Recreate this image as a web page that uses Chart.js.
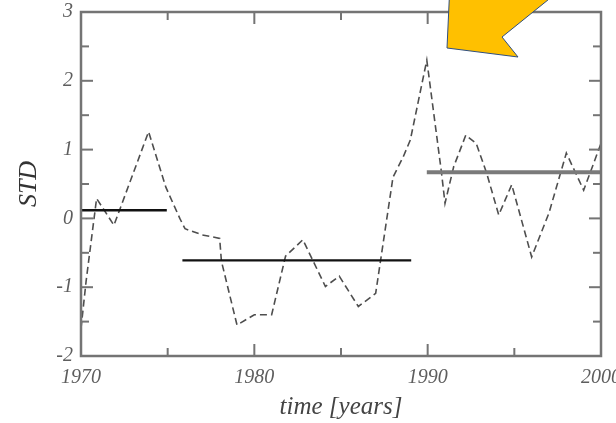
<!DOCTYPE html>
<html><head><meta charset="utf-8">
<script src="https://cdn.jsdelivr.net/npm/chart.js@4/dist/chart.umd.min.js"></script>
<style>
html,body{margin:0;padding:0;background:#fff;}
#wrap{position:relative;width:616px;height:423px;overflow:hidden;}
canvas{display:block;filter:blur(0.3px);}
svg{position:absolute;left:0;top:0;}
</style></head><body>
<div id="wrap">
<canvas id="c" width="616" height="423"></canvas>
<svg width="616" height="423"><polygon points="447,48 518,57 502,37 600,-42 452,-60" fill="#FFC000" stroke="#2F4F80" stroke-width="1"/></svg>
</div>
<script>
// Time series (years, standardized values)
const years = [1970.0, 1970.3, 1970.9, 1971.9, 1973.9, 1974.9, 1975.7, 1976.0, 1977.0, 1978.0, 1978.1, 1979.0, 1980.0, 1981.0, 1981.8, 1982.8, 1984.1, 1984.9, 1986.0, 1987.0, 1988.0, 1988.6, 1989.0, 1989.95, 1990.8, 1991.0, 1991.5, 1992.2, 1992.8, 1993.4, 1994.1, 1994.85, 1996.0, 1997.0, 1998.0, 1999.0, 2000.0];
const stdValues = [-1.60, -0.90, 0.29, -0.10, 1.26, 0.45, 0.00, -0.15, -0.24, -0.29, -0.62, -1.55, -1.40, -1.40, -0.55, -0.31, -0.99, -0.84, -1.28, -1.09, 0.60, 0.90, 1.14, 2.30, 0.66, 0.22, 0.75, 1.21, 1.09, 0.66, 0.05, 0.49, -0.56, 0.08, 0.95, 0.41, 1.09];
// Period means
const meanStarts = [1970, 1975.85, 1989.95];
const meanEnds = [1974.95, 1989.05, 2000];
const meanValues = [0.12, -0.61, 0.67];
// Tick labels
const xTicks = [1970, 1980, 1990, 2000];
const yTicks = [-2, -1, 0, 1, 2, 3];

const meanColors = ['#111111', '#111111', '#7a7a7a'];
const meanWidths = [2.5, 2.2, 4];

const datasets = [{
  data: years.map((y, i) => ({x: y, y: stdValues[i]})),
  showLine: true, borderColor: '#4e4e4e', borderWidth: 1.6, borderDash: [7, 4],
  pointRadius: 0, tension: 0, order: 2
}];
meanValues.forEach((v, i) => {
  datasets.push({
    data: [{x: meanStarts[i], y: v}, {x: meanEnds[i], y: v}],
    showLine: true, borderColor: meanColors[i], borderWidth: meanWidths[i],
    pointRadius: 0, order: 1
  });
});

const frame = {
  id: 'frame',
  afterDatasetsDraw(chart) {
    const {ctx, chartArea: a, scales: {x, y}} = chart;
    ctx.save();
    ctx.strokeStyle = '#747474';
    const seg = (x1, y1, x2, y2) => { ctx.beginPath(); ctx.moveTo(x1, y1); ctx.lineTo(x2, y2); ctx.stroke(); };
    ctx.lineWidth = 2;
    for (let v = 1970; v <= 2000; v += 5) {
      const p = x.getPixelForValue(v); const L = (v % 10 === 0) ? 12 : 8;
      seg(p, a.bottom, p, a.bottom - L); seg(p, a.top, p, a.top + L);
    }
    for (let v = -2; v <= 3; v += 0.5) {
      const p = y.getPixelForValue(v); const L = Number.isInteger(v) ? 12 : 8;
      seg(a.left, p, a.left + L, p); seg(a.right, p, a.right - L, p);
    }
    ctx.lineWidth = 2.5;
    ctx.strokeRect(a.left, a.top, a.right - a.left, a.bottom - a.top);
    ctx.restore();
  }
};

const tickFont = {family: '"Liberation Serif", "Times New Roman", serif', style: 'italic', size: 20, lineHeight: 1.2};

new Chart(document.getElementById('c'), {
  type: 'scatter',
  data: {datasets},
  options: {
    responsive: false, animation: false, devicePixelRatio: 1,
    layout: {padding: {left: 0, right: 15, top: 12, bottom: 0}},
    plugins: {legend: {display: false}, tooltip: {enabled: false}},
    scales: {
      x: {
        type: 'linear', min: 1970, max: 2000,
        grid: {display: false, drawTicks: false}, border: {display: false},
        afterBuildTicks: s => { s.ticks = xTicks.map(v => ({value: v})); },
        afterFit: s => { s.height = 67; s.paddingLeft = 0; s.paddingRight = 0; },
        ticks: {color: '#5e5e5e', font: tickFont, padding: 10, maxRotation: 0, autoSkip: false, callback: v => String(v)},
        title: {display: true, text: 'time [years]', color: '#444444', font: {family: '"Liberation Serif", serif', style: 'italic', size: 25, lineHeight: 1.2}, padding: {top: 0, bottom: 1}}
      },
      y: {
        min: -2, max: 3,
        grid: {display: false, drawTicks: false}, border: {display: false},
        afterBuildTicks: s => { s.ticks = yTicks.map(v => ({value: v})); },
        afterFit: s => { s.width = 81; s.paddingTop = 0; s.paddingBottom = 0; },
        ticks: {color: '#5e5e5e', font: tickFont, padding: 8, autoSkip: false, callback: v => String(v)},
        title: {display: true, text: 'STD', color: '#333333', font: {family: '"Liberation Serif", serif', style: 'italic', size: 26, lineHeight: 1.2}, padding: {top: 14, bottom: 0}}
      }
    }
  },
  plugins: [frame]
});
</script>
</body></html>
